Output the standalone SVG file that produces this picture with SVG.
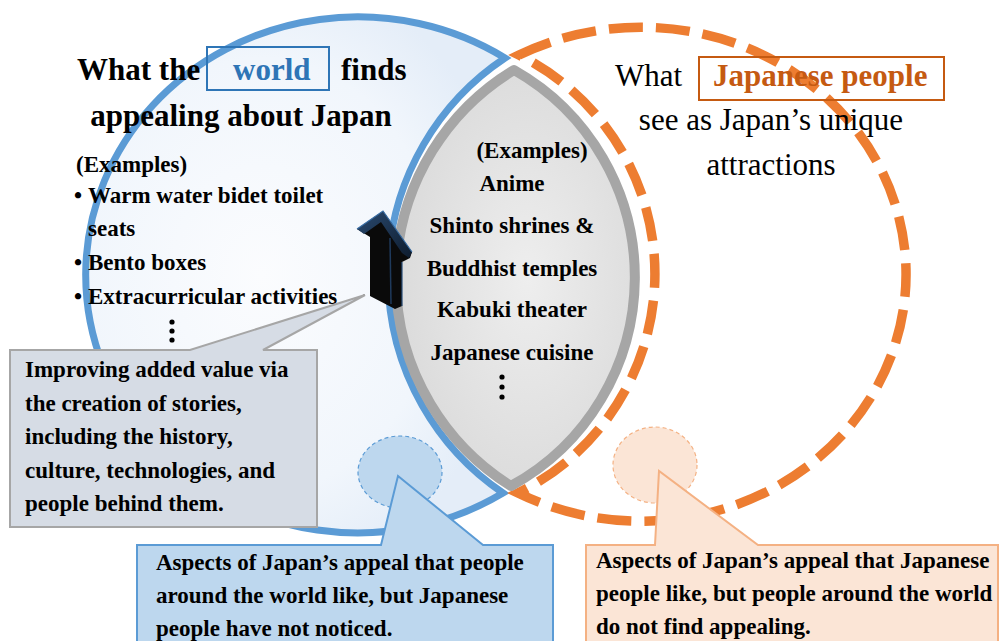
<svg xmlns="http://www.w3.org/2000/svg" width="999" height="641" viewBox="0 0 999 641">
<defs>
<radialGradient id="gBlue" cx="0.42" cy="0.5" r="0.6">
<stop offset="0" stop-color="#fbfcfe"/>
<stop offset="0.7" stop-color="#f1f6fc"/>
<stop offset="1" stop-color="#e4edf8"/>
</radialGradient>
<radialGradient id="gLens" cx="0.55" cy="0.5" r="0.6">
<stop offset="0" stop-color="#eeeeee"/>
<stop offset="1" stop-color="#d9d9d9"/>
</radialGradient>
<linearGradient id="gHead" x1="0" y1="0" x2="1" y2="1">
<stop offset="0" stop-color="#2a4a70"/>
<stop offset="1" stop-color="#0e1c2e"/>
</linearGradient>
</defs>
<style>
text{font-family:"Liberation Serif","Times New Roman",serif;fill:#000}
.b{font-weight:bold;font-size:23px}
.t{font-weight:bold;font-size:31px}
.r{font-size:31px}
.m{text-anchor:middle}
.dot{fill:#000}
</style>
<rect x="0" y="0" width="999" height="641" fill="#ffffff"/>

<g id="world-circle">
<path d="M505,58 A272,258 0 1 0 503,493 A262,262 0 0 1 505,58 Z" fill="url(#gBlue)" stroke="#5b9bd5" stroke-width="7" stroke-linejoin="miter"/>
<text class="t" x="77" y="80">What the</text>
<rect x="207" y="47" width="122" height="43" fill="none" stroke="#2e75b6" stroke-width="2"/>
<text class="t" x="233" y="80" style="fill:#2e75b6">world</text>
<text class="t" x="341" y="80">finds</text>
<text class="t m" x="241" y="126">appealing about Japan</text>
<text class="b" x="76" y="172">(Examples)</text>
<text class="b"><tspan x="74" y="203">•</tspan><tspan x="88" y="203">Warm water bidet toilet</tspan></text>
<text class="b" x="88" y="236">seats</text>
<text class="b"><tspan x="74" y="270">•</tspan><tspan x="88" y="270">Bento boxes</tspan></text>
<text class="b"><tspan x="74" y="304">•</tspan><tspan x="88" y="304">Extracurricular activities</tspan></text>
<circle class="dot" cx="172" cy="322" r="2.6"/>
<circle class="dot" cx="172" cy="331" r="2.6"/>
<circle class="dot" cx="172" cy="340" r="2.6"/>
</g>

<g id="japanese-circle">
<path d="M519,55 A265,247 0 1 1 518,493 A244,244 0 0 0 519,55 Z" fill="#ffffff" stroke="#ed7d31" stroke-width="9.5" stroke-dasharray="34 13"/>
<text class="r" x="615" y="86">What</text>
<rect x="699" y="57" width="245" height="43" fill="none" stroke="#c55a11" stroke-width="2"/>
<text class="t" x="713" y="86" style="fill:#c55a11">Japanese people</text>
<text class="r m" x="771" y="130">see as Japan’s unique</text>
<text class="r m" x="771" y="175">attractions</text>
</g>

<g id="overlap">
<path d="M514,70 A244,244 0 0 0 511,486 A238,238 0 0 0 514,70 Z" fill="url(#gLens)" stroke="#a6a6a6" stroke-width="10" stroke-linejoin="round"/>
<text class="b" x="532" y="158" text-anchor="middle">(Examples)</text>
<text class="b m" x="512" y="191">Anime</text>
<text class="b m" x="512" y="233">Shinto shrines &amp;</text>
<text class="b m" x="512" y="276">Buddhist temples</text>
<text class="b m" x="512" y="317">Kabuki theater</text>
<text class="b m" x="512" y="360">Japanese cuisine</text>
<circle class="dot" cx="502" cy="377" r="2.6"/>
<circle class="dot" cx="502" cy="387" r="2.6"/>
<circle class="dot" cx="502" cy="397" r="2.6"/>
</g>

<g id="up-arrow">
<polygon points="357,229 383,211 412,252 410,258 402,262 402,306 395,309 370,296 370,237" fill="#0a0a0a"/>
<polygon points="357,229 383,211 412,252 409,258 402,253 381,222 364,234" fill="url(#gHead)"/>
<polyline points="357,229 383,211 412,252" fill="none" stroke="#3a6ea5" stroke-width="1.2"/>
<line x1="390" y1="238" x2="391" y2="304" stroke="#1f3a5c" stroke-width="1.5"/>
<line x1="402" y1="262" x2="402" y2="306" stroke="#2a4f7a" stroke-width="1.2"/>
</g>

<g id="story-callout">
<path d="M10,350 L190,350 L365,295 L263,350 L317,350 L317,527 L10,527 Z" fill="#d6dce5" stroke="#a6a6a6" stroke-width="2"/>
<text class="b" x="25" y="377">Improving added value via</text>
<text class="b" x="25" y="411">the creation of stories,</text>
<text class="b" x="25" y="444">including the history,</text>
<text class="b" x="25" y="478">culture, technologies, and</text>
<text class="b" x="25" y="511">people behind them.</text>
</g>

<g id="world-callout">
<ellipse cx="400" cy="472" rx="42" ry="36" fill="#bdd7ee" stroke="#5b9bd5" stroke-width="1.2" stroke-dasharray="4 3"/>
<path d="M137,545 L381,545 L398,476 L483,545 L553,545 L553,646 L137,646 Z" fill="#bdd7ee" stroke="#5b9bd5" stroke-width="2"/>
<text class="b" x="156" y="570">Aspects of Japan’s appeal that people</text>
<text class="b" x="156" y="603">around the world like, but Japanese</text>
<text class="b" x="156" y="636">people have not noticed.</text>
</g>

<g id="japanese-callout">
<ellipse cx="655" cy="465" rx="42" ry="38" fill="#fbe5d6" stroke="#f4b183" stroke-width="1.2" stroke-dasharray="4 3"/>
<path d="M586,545 L655,545 L659,471 L758,545 L998,545 L998,646 L586,646 Z" fill="#fbe5d6" stroke="#f4b183" stroke-width="2"/>
<text class="b" x="596" y="568">Aspects of Japan’s appeal that Japanese</text>
<text class="b" x="596" y="601">people like, but people around the world</text>
<text class="b" x="596" y="634">do not find appealing.</text>
</g>
</svg>
